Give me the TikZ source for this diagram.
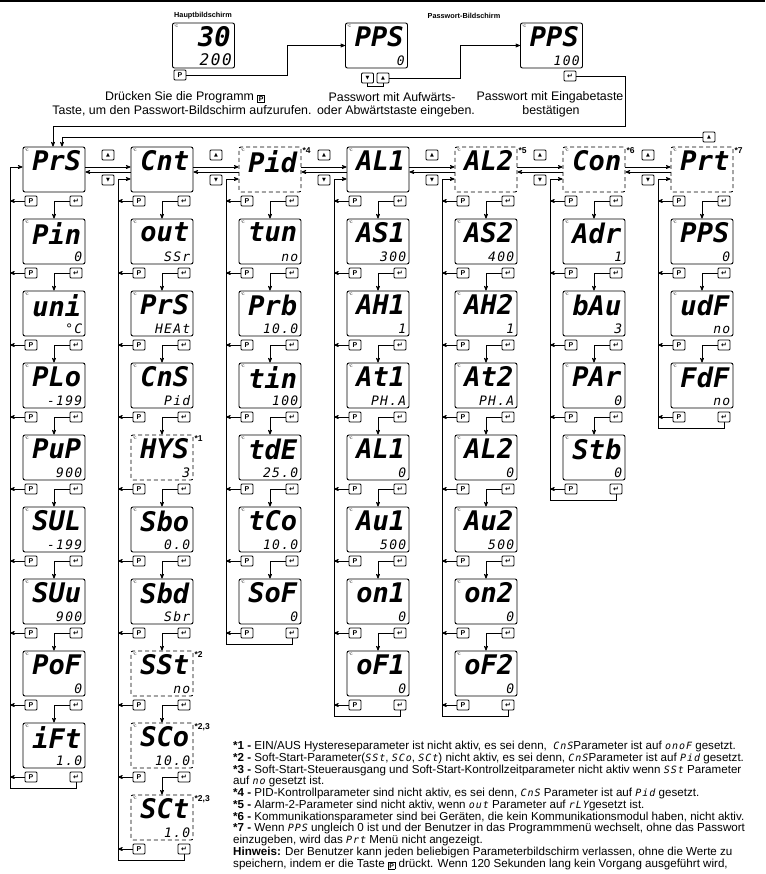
\documentclass[tikz,border=0pt]{standalone}
\usepackage{fontspec}
\setmainfont{Liberation Sans}
\newfontfamily\segfont{DejaVu Sans Mono Bold Oblique}
\newfontfamily\seglite{DejaVu Sans Mono Oblique}[LetterSpace=10]
\newfontfamily\symfont{DejaVu Sans}
\usetikzlibrary{arrows}
\tikzstyle{scr}=[draw,rounded corners=2pt,line width=0.9pt,minimum width=62pt,minimum height=45pt,inner sep=0pt]
\tikzstyle{dscr}=[scr,dash pattern=on 4pt off 3pt]
\tikzstyle{btn}=[draw,rounded corners=1pt,line width=0.8pt,minimum width=12pt,minimum height=10pt,inner sep=0pt,font=\bfseries\fontsize{7}{7}\selectfont]
\tikzstyle{big}=[inner sep=0pt,anchor=north east,font=\segfont\fontsize{27}{27}\selectfont]
\tikzstyle{val}=[inner sep=0pt,anchor=south east,font=\seglite\fontsize{13}{13}\selectfont]
\tikzstyle{deg}=[inner sep=0pt,anchor=north west,font=\fontsize{3.5}{3.5}\selectfont]
\tikzstyle{fnote}=[inner sep=0pt,anchor=north west,font=\bfseries\fontsize{8.5}{8.5}\selectfont]
\tikzstyle{lbl}=[inner sep=0pt,font=\bfseries\fontsize{7.3}{7.3}\selectfont]
\tikzstyle{txt}=[inner sep=0pt,font=\fontsize{12.4}{12.4}\selectfont]
\tikzstyle{arr}=[->,>=stealth',draw,line width=0.7pt]
\tikzstyle{ln}=[draw,line width=0.7pt]
\newcommand{\entr}{{\symfont ↵}}
\newcommand{\upkey}{{\symfont\fontsize{5}{5}\selectfont ▲}}
\newcommand{\dnkey}{{\symfont\fontsize{5}{5}\selectfont ▼}}
\newcommand{\sg}[1]{{\seglite\fontsize{10}{10}\selectfont #1}}
\newcommand{\pkey}{\raisebox{-1pt}{\setlength\fboxsep{1pt}\fbox{\bfseries\fontsize{7}{7}\selectfont P}}}
% screen: name, style, x, y, top text, bottom text
\newcommand{\scrn}[6]{%
  \node[#2] (#1) at (#3,#4) {};
  \node[big] (#1-t) at ([xshift=-4pt,yshift=-4pt]#1.north east) {#5};
  \node[val] (#1-v) at ([xshift=-3pt,yshift=3pt]#1.south east) {#6};
  \node[deg] (#1-c) at ([xshift=2pt,yshift=-2pt]#1.north west) {°C};
}

\begin{document}
\begin{tikzpicture}[x=1pt,y=-1pt]
  \useasboundingbox (0,0) rectangle (765,874);
  \draw[line width=1.2pt] (0,1) -- (765,1);

  % top row
  \node[lbl] (hb) at (203,16) {Hauptbildschirm};
  \node[lbl] (pb) at (464,16) {Passwort-Bildschirm};
  \scrn{main}{scr}{203.5}{45.5}{30}{\fontsize{16}{16}\selectfont 200}
  \scrn{pw1}{scr}{376.5}{45.5}{PPS}{0}
  \scrn{pw2}{scr}{551.5}{45.5}{PPS}{100}
  \node[btn] (main-p) at (180,75) {P};
  \node[btn] (pw1-d) at (367.5,78) {\dnkey};
  \node[btn] (pw1-u) at (383,78) {\upkey};
  \node[btn] (pw2-e) at (570,76) {\entr};
  \coordinate (j1) at (287,45.5);
  \coordinate (j2) at (460,45.5);
  \coordinate (j3) at (383,86);
  \draw[arr] (main-p.east) -| (j1) -- (pw1.west);
  \draw[arr] (pw1-u.east) -| (j2) -- (pw2.west);
  \draw[ln] (pw1-d.south) |- (j3) -- (pw1-u.south);
  \node[txt] (t1a) at (185,97) {Drücken Sie die Programm \pkey};
  \node[txt] (t1b) at (182,111) {Taste, um den Passwort-Bildschirm aufzurufen.};
  \node[txt] (t2a) at (392,97) {Passwort mit Aufwärts-};
  \node[txt] (t2b) at (396,111) {oder Abwärtstaste eingeben.};
  \node[txt] (t3a) at (550,97) {Passwort mit Eingabetaste};
  \node[txt] (t3b) at (551,111) {bestätigen};

  % columns
  \foreach \s/\t/\v [count=\k from 0] in {scr/PrS/{},scr/Pin/0,scr/uni/°C,scr/PLo/-199,scr/PuP/900,scr/SUL/-199,scr/SUu/900,scr/PoF/0,scr/iFt/1.0}{
    \scrn{c1-\k}{\s}{54}{169.5+72*\k}{\t}{\v}
    \node[btn] (c1-\k-p) at (31,201+72*\k) {P};
    \node[btn] (c1-\k-e) at (76,201+72*\k) {\entr};
  }
  \begin{scope}[xshift=108pt]
  \foreach \s/\t/\v [count=\k from 0] in {scr/Cnt/{},scr/out/SSr,scr/PrS/HEAt,scr/CnS/Pid,dscr/HYS/3,scr/Sbo/0.0,scr/Sbd/Sbr,dscr/SSt/no,dscr/SCo/10.0,dscr/SCt/1.0}{
    \scrn{c2-\k}{\s}{54}{169.5+72*\k}{\t}{\v}
    \node[btn] (c2-\k-p) at (31,201+72*\k) {P};
    \node[btn] (c2-\k-e) at (76,201+72*\k) {\entr};
  }
  \end{scope}
  \begin{scope}[xshift=216pt]
  \foreach \s/\t/\v [count=\k from 0] in {dscr/Pid/{},scr/tun/no,scr/Prb/10.0,scr/tin/100,scr/tdE/25.0,scr/tCo/10.0,scr/SoF/0}{
    \scrn{c3-\k}{\s}{54}{169.5+72*\k}{\t}{\v}
    \node[btn] (c3-\k-p) at (31,201+72*\k) {P};
    \node[btn] (c3-\k-e) at (76,201+72*\k) {\entr};
  }
  \end{scope}
  \begin{scope}[xshift=324pt]
  \foreach \s/\t/\v [count=\k from 0] in {scr/AL1/{},scr/AS1/300,scr/AH1/1,scr/At1/PH.A,scr/AL1/0,scr/Au1/500,scr/on1/0,scr/oF1/0}{
    \scrn{c4-\k}{\s}{54}{169.5+72*\k}{\t}{\v}
    \node[btn] (c4-\k-p) at (31,201+72*\k) {P};
    \node[btn] (c4-\k-e) at (76,201+72*\k) {\entr};
  }
  \end{scope}
  \begin{scope}[xshift=432pt]
  \foreach \s/\t/\v [count=\k from 0] in {dscr/AL2/{},scr/AS2/400,scr/AH2/1,scr/At2/PH.A,scr/AL2/0,scr/Au2/500,scr/on2/0,scr/oF2/0}{
    \scrn{c5-\k}{\s}{54}{169.5+72*\k}{\t}{\v}
    \node[btn] (c5-\k-p) at (31,201+72*\k) {P};
    \node[btn] (c5-\k-e) at (76,201+72*\k) {\entr};
  }
  \end{scope}
  \begin{scope}[xshift=540pt]
  \foreach \s/\t/\v [count=\k from 0] in {dscr/Con/{},scr/Adr/1,scr/bAu/3,scr/PAr/0,scr/Stb/0}{
    \scrn{c6-\k}{\s}{54}{169.5+72*\k}{\t}{\v}
    \node[btn] (c6-\k-p) at (31,201+72*\k) {P};
    \node[btn] (c6-\k-e) at (76,201+72*\k) {\entr};
  }
  \end{scope}
  \begin{scope}[xshift=648pt]
  \foreach \s/\t/\v [count=\k from 0] in {dscr/Prt/{},scr/PPS/0,scr/udF/no,scr/FdF/no}{
    \scrn{c7-\k}{\s}{54}{169.5+72*\k}{\t}{\v}
    \node[btn] (c7-\k-p) at (31,201+72*\k) {P};
    \node[btn] (c7-\k-e) at (76,201+72*\k) {\entr};
  }
  \end{scope}

  % footnote marks
  \node[fnote] (m1) at ([xshift=1pt,yshift=-1pt]c2-4.north east) {*1};
  \node[fnote] (m2) at ([xshift=1pt,yshift=-1pt]c2-7.north east) {*2};
  \node[fnote] (m23a) at ([xshift=1pt,yshift=-1pt]c2-8.north east) {*2,3};
  \node[fnote] (m23b) at ([xshift=1pt,yshift=-1pt]c2-9.north east) {*2,3};
  \node[fnote] (m4) at ([xshift=1pt,yshift=-1pt]c3-0.north east) {*4};
  \node[fnote] (m5) at ([xshift=1pt,yshift=-1pt]c5-0.north east) {*5};
  \node[fnote] (m6) at ([xshift=1pt,yshift=-1pt]c6-0.north east) {*6};
  \node[fnote] (m7) at ([xshift=1pt,yshift=-1pt]c7-0.north east) {*7};

  % links inside each column
  \foreach \c/\n/\ys in {1/8/2.5,2/9/-9.5,3/6/-9.5,4/7/-9.5,5/7/-9.5,6/4/-9.5,7/3/-9.5}{
    \coordinate (c\c-b) at (108*\c-98,212+72*\n);
    \foreach \k in {0,...,\n}
      \draw[arr] (c\c-\k-p.west) -- (c\c-\k-p.west -| c\c-b);
    \foreach \k in {1,...,\n}{
      \pgfmathtruncatemacro\j{\k-1}
      \draw[arr] (c\c-\j-e.west) -| (c\c-\k.north);
    }
    \draw[arr] (c\c-\n-e.south) |- (c\c-b) |- ([yshift=\ys pt]c\c-0.west);
  }

  % links between the menus
  \foreach \c [evaluate=\c as \d using int(\c+1)] in {1,...,6}{
    \node[btn] (up\c) at (108*\c,155) {\upkey};
    \node[btn] (dn\c) at (108*\c,180) {\dnkey};
    \draw[arr] ([yshift=2.5pt]c\c-0.east) -- ([yshift=2.5pt]c\d-0.west);
    \draw[arr] ([yshift=-2.5pt]c\d-0.west) -- ([yshift=-2.5pt]c\c-0.east);
  }

  % back to the first menu
  \node[btn] (c7-up) at (709,137) {\upkey};
  \coordinate (pwret) at (625,126);
  \draw[arr] (pw2-e.east) -| (pwret) -| ([xshift=-1pt]c1-0.north);
  \draw[arr] (c7-up.west) -| ([xshift=8pt]c1-0.north);

  % notes
  \node[inner sep=0pt,anchor=north west,align=left,font=\fontsize{11.6}{11.75}\selectfont] (notes) at (233,741) {%
    \textbf{*1 -} EIN/AUS Hystereseparameter ist nicht aktiv, es sei denn,\ \ \sg{CnS}Parameter ist auf \sg{onoF} gesetzt.\\
    \textbf{*2 -} Soft-Start-Parameter(\sg{SSt}, \sg{SCo}, \sg{SCt}) nicht aktiv, es sei denn, \sg{CnS}Parameter ist auf \sg{Pid} gesetzt.\\
    \textbf{*3 -} Soft-Start-Steuerausgang und Soft-Start-Kontrollzeitparameter nicht aktiv wenn\ \sg{SSt} Parameter\\
    auf \sg{no} gesetzt ist.\\
    \textbf{*4 -} PID-Kontrollparameter sind nicht aktiv, es sei denn, \sg{CnS} Parameter ist auf \sg{Pid} gesetzt.\\
    \textbf{*5 -} Alarm-2-Parameter sind nicht aktiv, wenn\ \sg{out} Parameter auf \sg{rLY}gesetzt ist.\\
    \textbf{*6 -} Kommunikationsparameter sind bei Geräten, die kein Kommunikationsmodul haben, nicht aktiv.\\
    \textbf{*7 -} Wenn \sg{PPS}\ ungleich 0 ist und der Benutzer in das Programmmenü wechselt, ohne das Passwort\\
    einzugeben, wird das \sg{Prt} Menü nicht angezeigt.\\
    \textbf{Hinweis:} Der Benutzer kann jeden beliebigen Parameterbildschirm verlassen, ohne die Werte zu\\
    speichern, indem er die Taste \pkey\ drückt. Wenn 120 Sekunden lang kein Vorgang ausgeführt wird,};
\end{tikzpicture}
\end{document}
